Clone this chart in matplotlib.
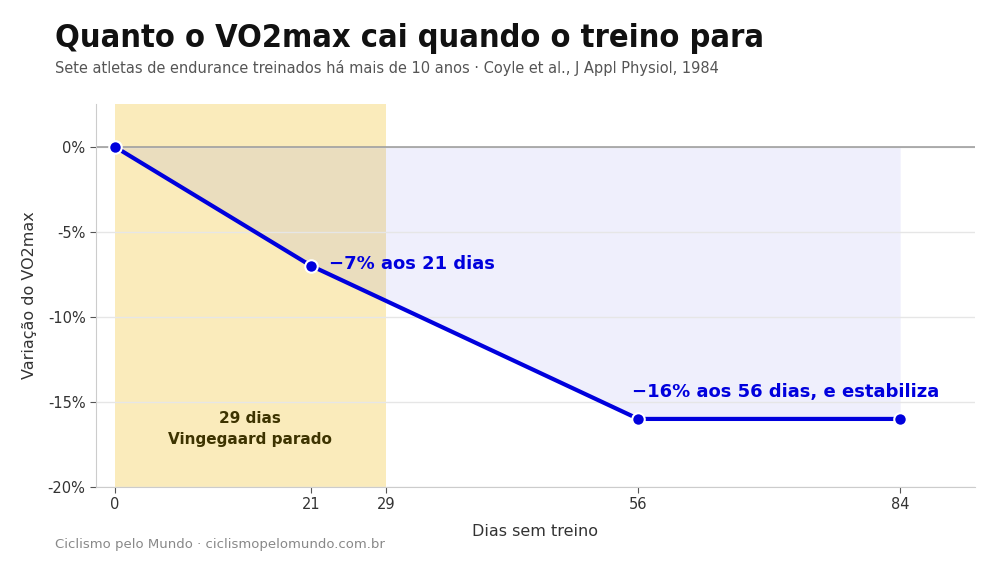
import matplotlib
matplotlib.use("Agg")
import matplotlib.pyplot as plt

# ---- data ----
days = [0, 21, 56, 84]
vo2_change = [0, -7, -16, -16]
xticks = [0, 21, 29, 56, 84]
yticks = [0, -5, -10, -15, -20]
ytick_labels = ["0%", "-5%", "-10%", "-15%", "-20%"]
stop_days = 29

title = "Quanto o VO2max cai quando o treino para"
subtitle = "Sete atletas de endurance treinados há mais de 10 anos · Coyle et al., J Appl Physiol, 1984"
footer = "Ciclismo pelo Mundo · ciclismopelomundo.com.br"
ann1 = "\u22127% aos 21 dias"
ann2 = "\u221216% aos 56 dias, e estabiliza"
band_label = "29 dias\nVingegaard parado"

BLUE = "#0000DD"
plt.rcParams['font.family'] = ['DejaVu Sans']

fig = plt.figure(figsize=(10, 5.63), dpi=100)
ax = fig.add_axes([0.096, 0.135, 0.879, 0.68])

ax.axvspan(0, stop_days, color="#FAEBBB", zorder=0.1, lw=0)
ax.fill_between(days, vo2_change, 0, color="#5050E0", alpha=0.09, zorder=0.2, lw=0)
ax.axhline(0, color="#999999", lw=1.1, zorder=1)
ax.plot(days, vo2_change, color=BLUE, lw=3, zorder=3, marker="o", markersize=9,
        markerfacecolor=BLUE, markeredgecolor="white", markeredgewidth=1.5)

ax.set_xlim(-2, 92)
ax.set_ylim(-20, 2.5)
ax.set_xticks(xticks)
ax.set_yticks(yticks)
ax.set_yticklabels(ytick_labels)
ax.set_axisbelow(True)
ax.yaxis.grid(True, color="#E6E6E6", lw=1)
ax.xaxis.grid(False)
for s in ["top", "right"]:
    ax.spines[s].set_visible(False)
for s in ["left", "bottom"]:
    ax.spines[s].set_color("#CCCCCC")
ax.tick_params(colors="#333333", labelsize=10.5, length=4, width=0.8)
ax.tick_params(axis="both", color="#555555")
ax.set_xlabel("Dias sem treino", fontsize=11.5, color="#333333", labelpad=8)
ax.set_ylabel("Variação do VO2max", fontsize=11.5, color="#333333", labelpad=8)

ax.text(22.9, -6.9, ann1, color=BLUE, fontsize=13, fontweight="bold", va="center", ha="left")
ax.text(55.3, -14.4, ann2, color=BLUE, fontsize=13, fontweight="bold", va="center", ha="left")
ax.text(stop_days / 2, -16.6, band_label, color="#3D3300", fontsize=11, fontweight="bold",
        ha="center", va="center", linespacing=1.5)

fig.text(0.055, 0.932, title, fontsize=23.3, fontweight="bold", color="#111111", va="center",
         fontstretch="condensed")
fig.text(0.055, 0.879, subtitle, fontsize=11.7, color="#555555", va="center", fontstretch="condensed")
fig.text(0.055, 0.032, footer, fontsize=9.5, color="#888888", va="center")

fig.savefig("out.png", dpi=100)
